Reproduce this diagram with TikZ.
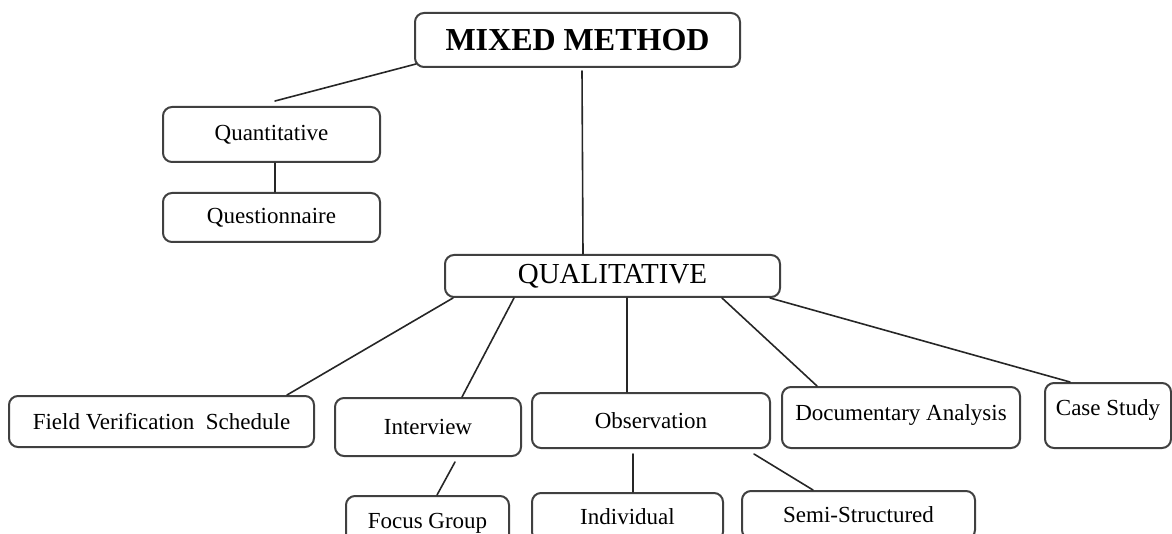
\documentclass[tikz,border=0pt]{standalone}
\usepackage{fontspec}
\setmainfont{Liberation Serif}
\begin{document}
\begin{tikzpicture}[x=1pt,y=-1pt,line join=round,line cap=round,
	box/.style={draw=black!75,line width=2pt,rounded corners=9pt,fill=white,inner sep=0pt,font=\fontsize{23}{27}\selectfont},
	link/.style={black!85,line width=1.6pt}]
	\useasboundingbox (0,0) rectangle (1172,534);
	\clip (0,0) rectangle (1172,534);
	% top levels
	\node[box,minimum width=325pt,minimum height=54pt,font=\bfseries\fontsize{32}{36}\selectfont] (mm) at (577.5,40) {MIXED METHOD};
	\node[box,minimum width=217pt,minimum height=55pt] (quant) at (271.5,134.5) {Quantitative};
	\node[box,minimum width=217pt,minimum height=49pt] (quest) at (271.5,217.5) {Questionnaire};
	\node[box,minimum width=335pt,minimum height=42pt,font=\fontsize{29}{33}\selectfont] (qual) at (612.5,276) {QUALITATIVE};
	% qualitative tools
	\node[box,minimum width=305pt,minimum height=51pt] (field) at (161.5,421.5) {Field Verification\ \ Schedule};
	\node[box,minimum width=186pt,minimum height=58pt] (interview) at (428,427) {Interview};
	\node[box,minimum width=238pt,minimum height=55pt] (obs) at (651,420.5) {Observation};
	\node[box,minimum width=238pt,minimum height=61pt,text depth=10pt] (doc) at (901,417.5) {Documentary Analysis};
	\node[box,minimum width=126pt,minimum height=65pt,text depth=16pt] (case) at (1108,415.5) {Case Study};
	\node[box,minimum width=163pt,minimum height=54pt] (focus) at (427.5,523) {Focus Group};
	\node[box,minimum width=191pt,minimum height=48pt] (indiv) at (627.5,517) {Individual};
	\node[box,minimum width=233pt,minimum height=48pt] (semi) at (858.5,515) {Semi-Structured};
	% links
	\draw[link] ([xshift=2pt,yshift=4pt]mm.south west) -- ([xshift=3.5pt,yshift=5pt]quant.north);
	\draw[link] ([xshift=4.5pt,yshift=-3pt]mm.south) -- ([xshift=-29.5pt]qual.north);
	\draw[link] ([xshift=3.5pt]quant.south) -- ([xshift=3.5pt]quest.north);
	\foreach \s/\n/\t in {-159.5/field/125.5,-98.5/interview/34,14.5/obs/-24,109.5/doc/-84,157.5/case/-38}{
		\draw[link] ([xshift=\s pt]qual.south) -- ([xshift=\t pt]\n.north);
	}
	\draw[link] ([xshift=27pt,yshift=-5pt]interview.south) -- ([xshift=9.5pt]focus.north);
	\draw[link] ([xshift=-18pt,yshift=-5pt]obs.south) -- ([xshift=5.5pt]indiv.north);
	\draw[link] ([xshift=-17pt,yshift=-5pt]obs.south east) -- ([xshift=-45.5pt]semi.north);
\end{tikzpicture}
\end{document}
